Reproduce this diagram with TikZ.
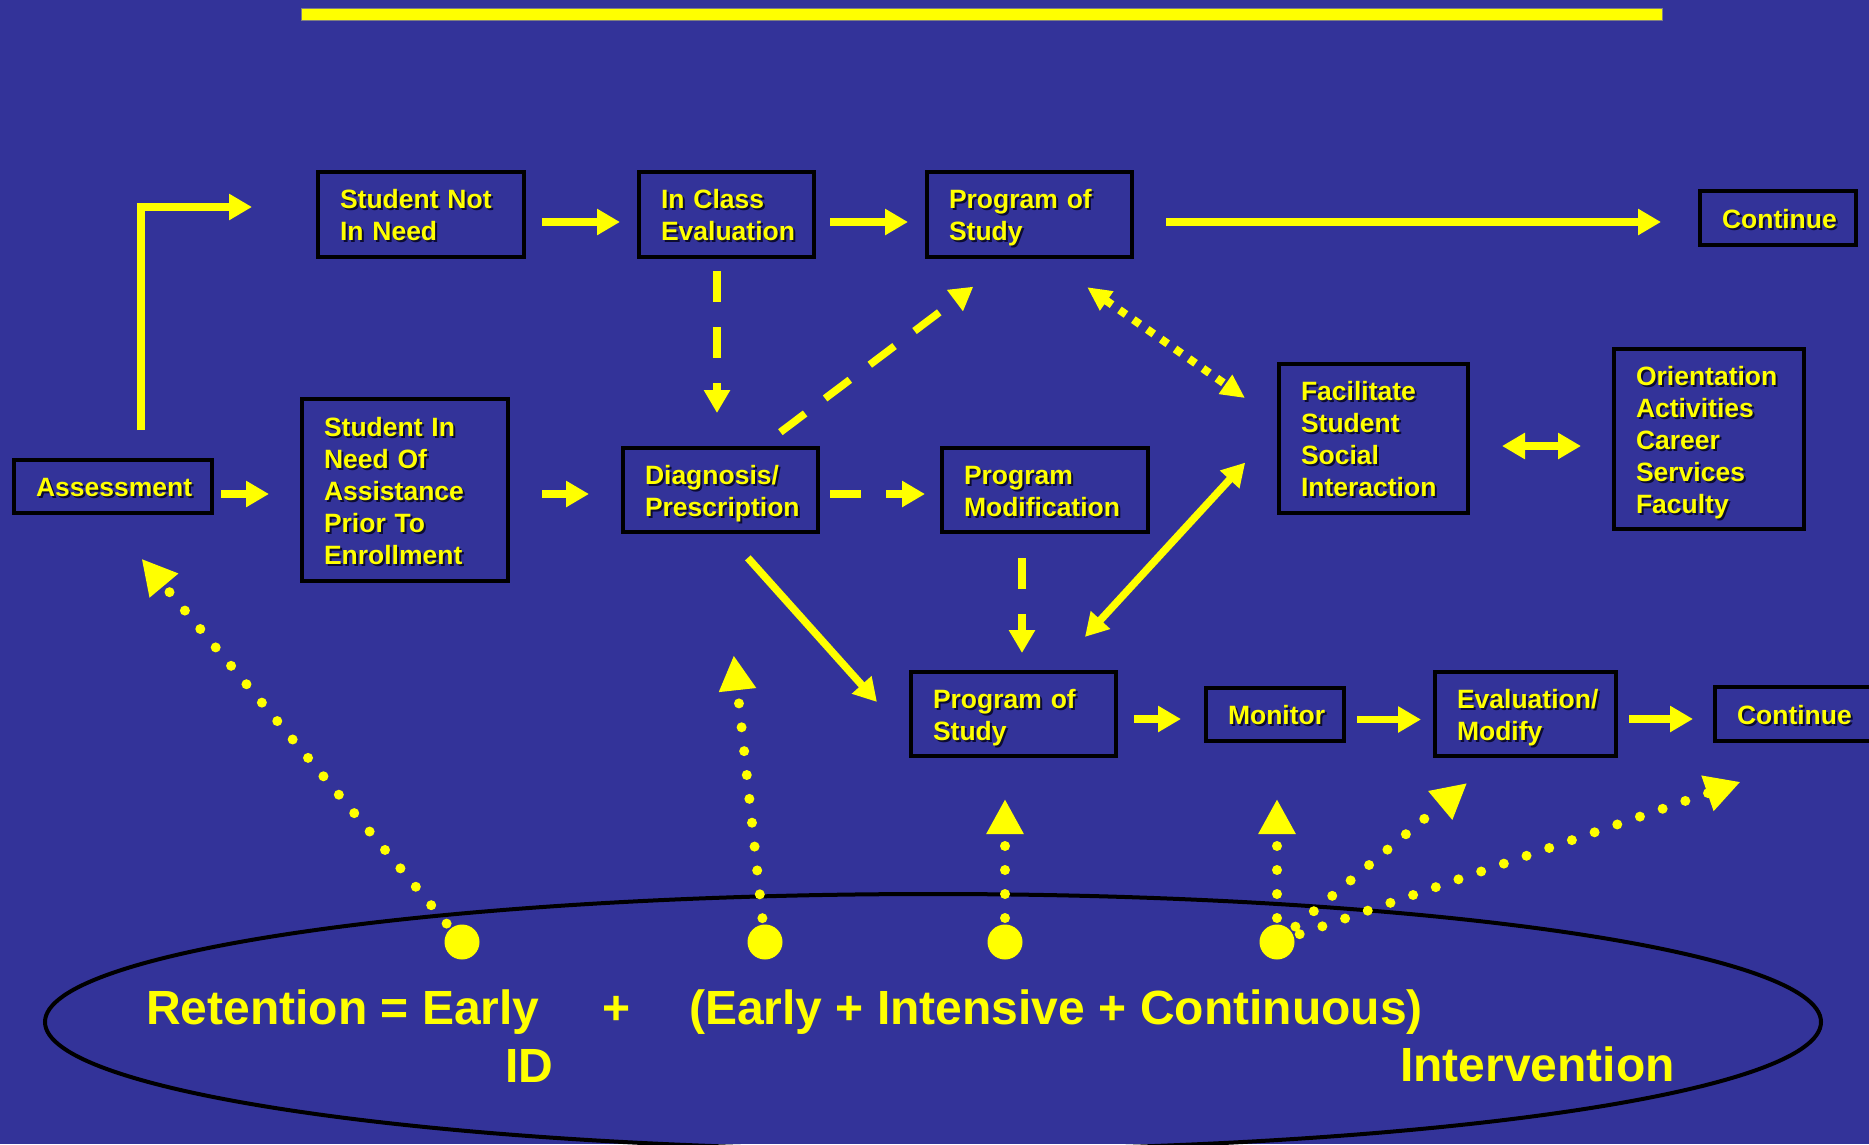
\documentclass[tikz,border=0pt]{standalone}
\usepackage{fontspec}
\setmainfont{Liberation Sans}
\usetikzlibrary{arrows.meta,calc}
\definecolor{bg}{RGB}{51,51,153}
\definecolor{yl}{RGB}{255,255,0}
\definecolor{shd}{RGB}{12,12,50}
\tikzset{
 boxtxt/.style={font=\bfseries\fontsize{26.5}{32}\selectfont, align=left, inner sep=0pt},
 box/.style={boxtxt, draw=black, line width=4pt, text=yl},
 boxshadow/.style={boxtxt, text=shd},
 big/.style={font=\bfseries\fontsize{48}{56}\selectfont, text=yl, inner sep=0pt},
 arr/.style={draw=yl, line width=7.5pt, -{Triangle[length=23pt,width=25pt]}},
 darr/.style={draw=yl, line width=7.5pt, {Triangle[length=23pt,width=25pt]}-{Triangle[length=23pt,width=25pt]}},
 dsh/.style={arr, dash pattern=on 31pt off 25pt},
 sqdot/.style={draw=yl, line width=8pt, dash pattern=on 8pt off 9pt, {Triangle[length=24pt,width=22pt]}-{Triangle[length=24pt,width=22pt]}},
 dotr/.style={draw=yl, line width=10pt, line cap=round, dash pattern=on 0pt off 24pt, -{Triangle[length=35pt,width=35pt]}},
 bigdot/.style={circle, fill=yl, inner sep=0pt, minimum size=35pt},
}
\newcommand\mybox[6]{%
 \node[boxshadow, text width=\dimexpr#4pt-44pt\relax, minimum width=#4pt, minimum height=#5pt] (#1s) at (#2+2,#3+2) {\rule{0pt}{26pt}#6\rule[-6pt]{0pt}{6pt}};
 \node[box, text width=\dimexpr#4pt-44pt\relax, minimum width=#4pt, minimum height=#5pt] (#1) at (#2,#3) {\rule{0pt}{26pt}#6\rule[-6pt]{0pt}{6pt}};}
\begin{document}
\begin{tikzpicture}[x=1pt,y=-1pt]
\fill[bg] (0,0) rectangle (1869,1144);
\useasboundingbox (0,0) rectangle (1869,1144);
\clip (0,0) rectangle (1869,1144);
% top bar
\draw[fill=yl, draw=gray, line width=0.8pt] (301,8) rectangle (1662,20);
% ellipse
\draw[black, line width=4pt] (933,1022) ellipse [x radius=888pt, y radius=128pt];
% boxes
\mybox{assess}{113}{486.5}{198}{53}{Assessment}
\mybox{stunot}{421}{214.5}{206}{85}{Student Not\\In Need}
\mybox{inclass}{726.5}{214.5}{175}{85}{In Class\\Evaluation}
\mybox{progtop}{1029.5}{214.5}{205}{85}{Program of\\Study}
\mybox{conttop}{1778}{218}{156}{54}{Continue}
\mybox{stuin}{405}{490}{206}{182}{Student In\\Need Of\\Assistance\\Prior To\\Enrollment}
\mybox{diag}{720.5}{490}{195}{84}{Diagnosis/\\Prescription}
\mybox{progmod}{1045}{490}{206}{84}{Program\\Modification}
\mybox{fac}{1373.5}{438.5}{189}{149}{Facilitate\\Student\\Social\\Interaction}
\mybox{orient}{1709}{439}{190}{180}{Orientation\\Activities\\Career\\Services\\Faculty}
\mybox{progbot}{1013.5}{714}{205}{84}{Program of\\Study}
\mybox{monitor}{1275}{714.5}{138}{53}{Monitor}
\mybox{evalmod}{1525.5}{714}{181}{84}{Evaluation/\\Modify}
\mybox{contbot}{1806.5}{714}{183}{54}{Continue}
% equation text
\node[big, anchor=base west] (t1) at (146,1024) {Retention = Early};
\node[big, anchor=base] (t2) at (617,1024) {+};
\node[big, anchor=base west] (t3) at (689,1024) {(Early + Intensive + Continuous)};
\node[big, anchor=base west] (t4) at (505,1082) {ID};
\node[big, anchor=base west] (t5) at (1400,1081) {Intervention};
% big dots
\node[bigdot] (bd1) at (462,942) {};
\node[bigdot] (bd2) at (765,942) {};
\node[bigdot] (bd3) at (1005,942) {};
\node[bigdot] (bd4) at (1277,942) {};
% solid arrows
\draw[arr, shorten <=28pt, shorten >=64pt] ([xshift=28pt]assess.north) |- ([yshift=7.5pt]stunot.west);
\draw[arr, shorten <=7pt, shorten >=31pt] ([yshift=-7.5pt]assess.east) -- ([yshift=-7.5pt]assess.east -| stuin.west);
\draw[arr, shorten <=32pt, shorten >=32pt] ([yshift=-4pt]stuin.east) -- ([yshift=-4pt]stuin.east -| diag.west);
\draw[arr, shorten <=16pt, shorten >=17pt] ([yshift=-7.5pt]stunot.east) -- ([yshift=-7.5pt]stunot.east -| inclass.west);
\draw[arr, shorten <=14pt, shorten >=17pt] ([yshift=-7.5pt]inclass.east) -- ([yshift=-7.5pt]inclass.east -| progtop.west);
\draw[arr, shorten <=32pt, shorten >=37pt] ([yshift=-7.5pt]progtop.east) -- ([yshift=-7.5pt]progtop.east -| conttop.west);
\draw[arr, shorten <=32pt, shorten >=48pt] ([xshift=6pt]diag.south) -- ([yshift=-23.7pt]progbot.west);
\draw[darr, shorten <=45pt, shorten >=47pt] ([xshift=41pt]progbot.north) -- ([yshift=10.5pt]fac.west);
\draw[darr, shorten <=32pt, shorten >=31pt] ([yshift=-7.5pt]fac.east) -- ([yshift=-7.5pt]fac.east -| orient.west);
\draw[arr, shorten <=16pt, shorten >=23pt] ([yshift=-5pt]progbot.east) -- ([yshift=-5pt]progbot.east -| monitor.west);
\draw[arr, shorten <=11pt, shorten >=12pt] ([yshift=-5pt]monitor.east) -- ([yshift=-5pt]monitor.east -| evalmod.west);
\draw[arr, shorten <=11pt, shorten >=20pt] ([yshift=-5pt]evalmod.east) -- ([yshift=-5pt]evalmod.east -| contbot.west);
% dashed arrows
\draw[dsh, shorten <=12pt, shorten >=33pt] ([xshift=-3.5pt]diag.north |- inclass.south) -- ([xshift=-3.5pt]diag.north);
\draw[dsh, shorten <=10pt, shorten >=15pt] ([yshift=-4pt]diag.east) -- ([yshift=-4pt]diag.east -| progmod.west);
\draw[dsh, shorten <=23pt, shorten >=46pt] ([xshift=41.5pt]diag.north) -- ([xshift=-19.5pt]progtop.south);
\draw[dsh, shorten <=24pt, shorten >=17pt] ([xshift=-23pt]progmod.south) -- ([xshift=-23pt]progmod.south |- progbot.north);
% square-dotted double arrow
\draw[sqdot, shorten <=49pt, shorten >=39pt] ([xshift=17.5pt]progtop.south) -- ([yshift=18pt]fac.west);
% round-dotted arrows from the dots
\draw[dotr, shorten >=57pt] (bd1.center) -- ([xshift=-8pt]assess.south);
\draw[dotr, shorten >=122pt] (bd2.center) -- (diag.south);
\draw[dotr, shorten >=41pt] (bd3.center) -- ([xshift=-8.5pt]progbot.south);
\draw[dotr, shorten >=56pt] (bd4.center) -- ([xshift=2pt]monitor.south);
\draw[dotr, shorten >=39pt] (bd4.center) -- ([xshift=-28.5pt]evalmod.south);
\draw[dotr, shorten >=119pt] (bd4.center) -- ([xshift=46.5pt]contbot.south);
\end{tikzpicture}
\end{document}
